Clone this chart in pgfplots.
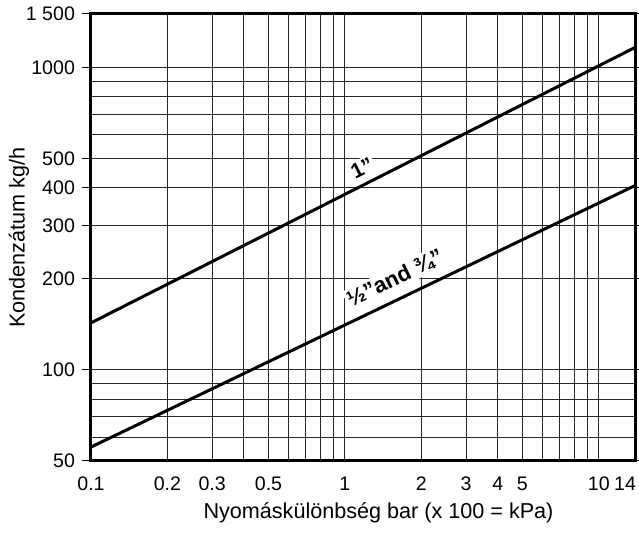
\documentclass[border=0pt]{standalone}
\usepackage{fontspec}
\setmainfont{Liberation Sans}
\usepackage{pgfplots}
\pgfplotsset{compat=1.18}
\begin{document}
\begin{tikzpicture}
\useasboundingbox (-45.5pt,-35.5pt) rectangle (274pt,230.5pt);
\begin{axis}[
  scale only axis,
  width=272.5pt, height=223.5pt,
  xmode=log, ymode=log,
  xmin=0.1, xmax=14, ymin=50, ymax=1500,
  xtick={0.1,0.2,0.3,0.5,1,2,3,4,5,10,14},
  xticklabels={0.1,0.2,0.3,0.5,1,2,3,4,5,10,\makebox[0pt][r]{14}},
  ytick={50,100,200,300,400,500,1000,1500},
  yticklabels={50,100,200,300,400,500,1000,1\ 500},
  minor xtick={0.2,0.3,0.4,0.5,0.6,0.7,0.8,0.9,2,3,4,5,6,7,8,9},
  minor ytick={60,70,80,90,600,700,800,900},
  grid=both,
  major grid style={black!85, line width=0.5pt},
  minor grid style={black!85, line width=0.5pt},
  axis line style={line width=1.5pt},
  xtick style={draw=none},
  ytick style={black, line width=0.5pt},
  tick align=outside,
  major tick length=4.5pt,
  minor tick length=0pt,
  /pgf/number format/assume math mode=true,
  tick label style={font=\fontsize{9.8}{11}\selectfont},
  label style={font=\fontsize{10.8}{12}\selectfont},
  xlabel={Nyomáskülönbség bar (x 100 = kPa)},
  ylabel={Kondenzátum kg/h},
  xlabel style={yshift=1pt, xshift=7.5pt},
  ylabel style={yshift=-8.5pt},
  clip=false,
]
\addplot[black, line width=1.5pt] coordinates {(0.1,143) (14,1167)};
\addplot[black, line width=1.5pt] coordinates {(0.1,55.6) (14,408)};
\node[rotate=27, fill=white, inner sep=1pt, font=\bfseries\fontsize{10.5}{12}\selectfont] at (axis cs:1.167,465) {1"};
\node[rotate=26, fill=white, inner sep=1pt, font=\bfseries\fontsize{11}{12}\selectfont] at (axis cs:1.574,201) {½"and ¾"};
\end{axis}
\end{tikzpicture}
\end{document}
